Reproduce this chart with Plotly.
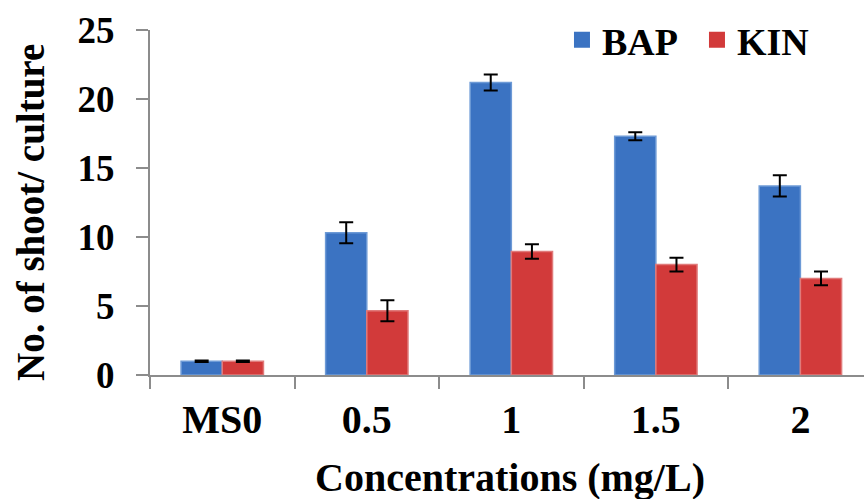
import plotly.graph_objects as go

categories = ["MS0", "0.5", "1", "1.5", "2"]
bap = [1.0, 10.3, 21.2, 17.3, 13.7]
bap_err = [0.05, 0.76, 0.58, 0.29, 0.77]
kin = [1.0, 4.65, 8.95, 8.0, 7.0]
kin_err = [0.05, 0.76, 0.52, 0.5, 0.5]
series_names = ["BAP", "KIN"]
series_colors = ["#3b73c2", "#d23a3a"]
edge_colors = ["#6d9ad6", "#e07a7a"]
x_title = "Concentrations (mg/L)"
y_title = "No. of shoot/ culture"

font_family = "Liberation Serif, Times New Roman, Times, serif"

fig = go.Figure()
for name, vals, errs, col, edge in zip(series_names, [bap, kin], [bap_err, kin_err],
                                       series_colors, edge_colors):
    fig.add_trace(go.Bar(
        name=name, x=categories, y=vals, showlegend=False,
        marker=dict(color=col, line=dict(color=edge, width=1.5)),
        error_y=dict(type="data", array=errs, color="black", thickness=2, width=7),
    ))
# legend entries with larger square symbols
for name, col in zip(series_names, series_colors):
    fig.add_trace(go.Scatter(
        name=name, x=[None], y=[None], mode="markers",
        marker=dict(symbol="square", size=20, color=col), showlegend=True,
    ))

fig.update_layout(
    width=864, height=499,
    margin=dict(l=150, r=0, t=30, b=124, autoexpand=False),
    paper_bgcolor="white", plot_bgcolor="white",
    barmode="group", bargap=0.43, bargroupgap=0,
    font=dict(family=font_family, color="black"),
    showlegend=True,
    legend=dict(
        orientation="h", x=0.577, y=(375 - 40) / 345, xanchor="left", yanchor="middle",
        font=dict(family=font_family, size=38, color="black", weight="bold"),
        bgcolor="rgba(0,0,0,0)", itemwidth=30, traceorder="normal",
        itemsizing="trace", entrywidth=90, entrywidthmode="pixels",
    ),
    annotations=[
        dict(text=x_title, xref="paper", yref="paper",
             x=(510 - 150) / 714, y=-(478 - 375) / 345, xanchor="center", yanchor="middle",
             showarrow=False,
             font=dict(family=font_family, size=40, color="black", weight="bold")),
        dict(text=y_title, xref="paper", yref="paper", textangle=-90,
             x=-(150 - 30) / 714, y=(375 - 213) / 345, xanchor="center", yanchor="middle",
             showarrow=False,
             font=dict(family=font_family, size=39, color="black", weight="bold")),
    ],
)

fig.update_xaxes(
    type="category", range=[-0.5, 4.44],
    showline=True, linecolor="#8c8c8c", linewidth=2,
    ticks="outside", tickson="boundaries", ticklen=12, tickcolor="#8c8c8c", tickwidth=2,
    tickfont=dict(family=font_family, size=40, color="black", weight="bold"),
    ticklabelstandoff=8,
    showgrid=False, zeroline=False,
)
fig.update_yaxes(
    range=[0, 25], tickvals=[0, 5, 10, 15, 20, 25],
    showline=True, linecolor="#8c8c8c", linewidth=2,
    ticks="outside", ticklen=12, tickcolor="#8c8c8c", tickwidth=2,
    tickfont=dict(family=font_family, size=37, color="black", weight="bold"),
    ticklabelstandoff=14,
    showgrid=False, zeroline=False,
)

fig.write_html("out.html")
